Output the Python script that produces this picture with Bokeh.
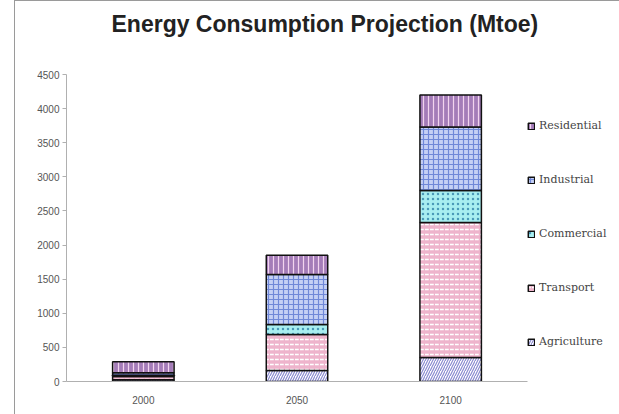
from bokeh.plotting import figure
from bokeh.models import ColumnDataSource, Legend, LegendItem, FactorRange, Range1d, SingleIntervalTicker, Title
from bokeh.embed import file_html
from bokeh.resources import INLINE

years = ["2000", "2050", "2100"]
agriculture = [25, 160, 350]
transport = [50, 530, 1980]
commercial = [15, 145, 470]
industrial = [40, 735, 930]
residential = [160, 280, 470]
sectors = ["Agriculture", "Transport", "Commercial", "Industrial", "Residential"]

fills = ["#ffffff", "#eeb4cc", "#a8eef0", "#c5d0f5", "#a47cb8"]
hatches = ["right_diagonal_line", "horizontal_dash", "dot", "cross", "vertical_line"]
hatch_colors = ["#8a8ad0", "#ffffff", "#4a9ab8", "#7088d8", "#f2d4ee"]
hatch_weights = [1.2, 1.5, 2.0, 1.2, 1.2]

src = ColumnDataSource(dict(year=years, Agriculture=agriculture, Transport=transport,
                            Commercial=commercial, Industrial=industrial, Residential=residential))

p = figure(x_range=FactorRange(*years), y_range=Range1d(0, 4500),
           frame_width=461, frame_height=307, output_backend="svg", toolbar_location=None,
           min_border_left=51, min_border_top=73, min_border_bottom=34, min_border_right=92)
p.styles = {"margin": "0px 0px 0px 14px",
            "border-left": "1px solid #9a9a9a", "border-top": "1px solid #9a9a9a",
            "border-right": "1px solid #9a9a9a"}

renderers = p.vbar_stack(sectors, x="year", width=0.4, source=src,
                         fill_color=fills, hatch_pattern=hatches, hatch_color=hatch_colors,
                         hatch_weight=hatch_weights, hatch_scale=5,
                         line_color="#111111", line_width=1.5)

p.title = Title(text="Energy Consumption Projection (Mtoe)", align="left",
                text_font="Liberation Sans", text_font_size="23px", text_font_style="bold",
                text_color="#222222", offset=45)
p.add_layout(Title(text=" ", text_font_size="28px", standoff=0), "above")

p.xgrid.grid_line_color = None
p.ygrid.grid_line_color = None
p.outline_line_color = None

p.yaxis.ticker = SingleIntervalTicker(interval=500)
p.yaxis.minor_tick_line_color = None
p.yaxis.major_tick_in = 0
p.yaxis.major_tick_out = 4
p.yaxis.axis_line_color = "#b0b0b0"
p.yaxis.major_tick_line_color = "#b0b0b0"
p.yaxis.major_label_text_font = "Liberation Sans"
p.yaxis.major_label_text_font_size = "10px"
p.yaxis.major_label_text_color = "#555555"
p.yaxis.major_label_standoff = 3

p.xaxis.axis_line_color = "#b0b0b0"
p.xaxis.major_tick_line_color = None
p.xaxis.minor_tick_line_color = None
p.xaxis.major_label_text_font = "Liberation Sans"
p.xaxis.major_label_text_font_size = "10px"
p.xaxis.major_label_text_color = "#555555"
p.xaxis.major_label_standoff = 8

items = [LegendItem(label=s, renderers=[r]) for s, r in zip(sectors, renderers)][::-1]
legend = Legend(items=items, location=(0, 33), orientation="vertical",
                glyph_width=8, glyph_height=8, label_height=10, spacing=41,
                label_standoff=4, padding=1, margin=0,
                label_text_font="DejaVu Serif", label_text_font_size="11px",
                label_text_color="#444444", border_line_color=None, background_fill_alpha=0)
p.add_layout(legend, "right")

open("out.html", "w").write(file_html(p, INLINE))
